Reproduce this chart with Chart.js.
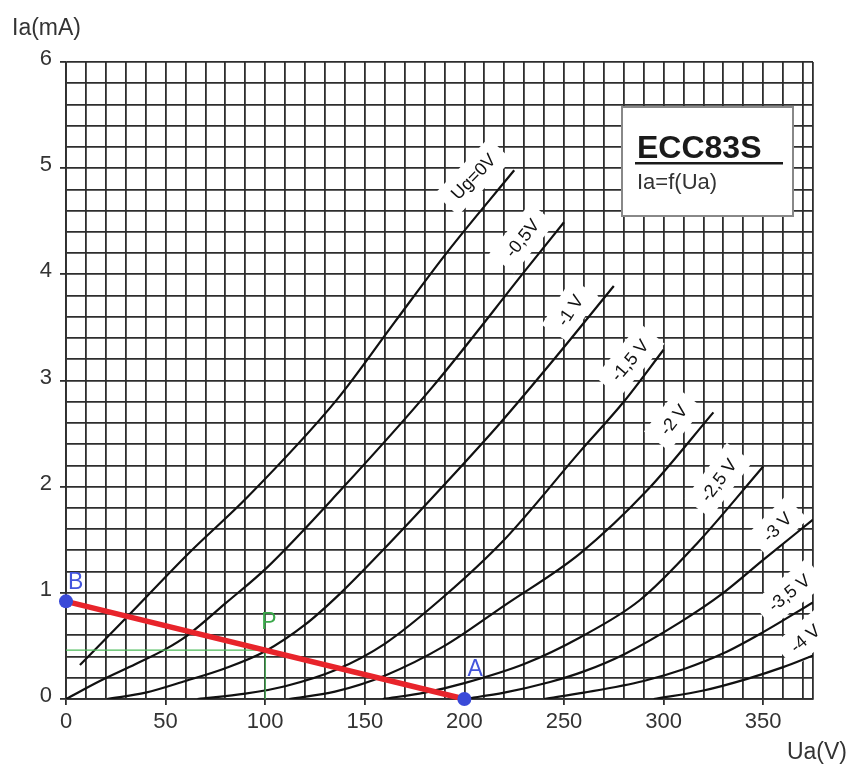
<!DOCTYPE html>
<html>
<head>
<meta charset="utf-8">
<script src="https://cdn.jsdelivr.net/npm/chart.js@4.4.0/dist/chart.umd.min.js"></script>
<style>
  html, body { margin: 0; padding: 0; background: #fff; }
  #wrap { width: 849px; height: 765px; }
</style>
</head>
<body>
<div id="wrap"><canvas id="chart"></canvas></div>
<script>
// curve names (grid voltage)
const curveNames = ['Ug=0V', '-0,5V', '-1 V', '-1,5 V', '-2 V', '-2,5 V', '-3 V', '-3,5 V', '-4 V'];

// Ua (V) and Ia (mA)
const ua0 = [7, 30, 62, 91, 136, 165, 191, 225];
const ia0 = [0.32, 0.76, 1.38, 1.9, 2.82, 3.55, 4.2, 4.98];
const ua05 = [0, 17, 35, 50, 61, 80, 101, 138, 184, 232, 250];
const ia05 = [0, 0.17, 0.33, 0.47, 0.6, 0.9, 1.24, 1.97, 2.94, 4.07, 4.49];
const ua1 = [20.6, 40, 60, 80, 100, 120, 138, 160, 190, 218, 245, 275];
const ia1 = [0, 0.06, 0.17, 0.29, 0.45, 0.7, 1.0, 1.42, 2.02, 2.6, 3.2, 3.89];
const ua15 = [66, 90, 110, 135, 160, 190, 220, 258, 280, 300];
const ia15 = [0, 0.05, 0.12, 0.27, 0.52, 0.97, 1.5, 2.33, 2.8, 3.29];
const ua2 = [112, 135, 160, 190, 220, 258, 292, 325];
const ia2 = [0, 0.07, 0.22, 0.5, 0.88, 1.37, 1.97, 2.7];
const ua25 = [159, 180, 200, 230, 258, 288, 317, 350];
const ia25 = [0, 0.06, 0.15, 0.33, 0.58, 0.93, 1.47, 2.19];
const ua3 = [200, 220, 243, 260, 280, 308, 330, 350, 375];
const ia3 = [0, 0.06, 0.16, 0.26, 0.42, 0.72, 1.0, 1.31, 1.69];
const ua35 = [240, 260, 290, 310, 330, 350, 375];
const ia35 = [0, 0.06, 0.17, 0.28, 0.43, 0.63, 0.91];
const ua4 = [295, 320, 342, 360, 375];
const ia4 = [0, 0.08, 0.19, 0.3, 0.41];

// load line B -> A and operating point P
const loadUa = [0, 200];
const loadIa = [0.92, 0];
const opUa = 100;
const opIa = 0.46;

// axis ticks
const xTickLabels = [0, 50, 100, 150, 200, 250, 300, 350];
const yTickLabels = [0, 1, 2, 3, 4, 5, 6];

// where the curve names sit (Ua, Ia, rotation in degrees)
const curveLabelPos = [
  [204.5, 4.92, -46], [229, 4.34, -51], [253, 3.66, -57],
  [283, 3.19, -50], [305, 2.63, -52], [327.6, 2.06, -53],
  [357, 1.62, -45], [363, 1.0, -39], [371, 0.57, -40]
];

const FONT = '"Liberation Sans", Arial, Helvetica, sans-serif';
Chart.defaults.font.family = FONT;

const pts = (xs, ys) => xs.map((v, i) => ({ x: v, y: ys[i] }));

const curves = [
  [ua0, ia0], [ua05, ia05], [ua1, ia1], [ua15, ia15], [ua2, ia2],
  [ua25, ia25], [ua3, ia3], [ua35, ia35], [ua4, ia4]
].map((c, i) => ({
  label: curveNames[i],
  data: pts(c[0], c[1]),
  showLine: true,
  borderColor: '#111',
  borderWidth: 2.2,
  pointRadius: 0,
  cubicInterpolationMode: 'monotone',
  order: 3
}));

const guide = {
  label: 'P',
  data: pts([0, opUa, opUa], [opIa, opIa, 0]),
  showLine: true,
  borderColor: '#4cbb5a',
  borderWidth: 1.2,
  pointRadius: 0,
  order: 2
};

const loadLine = {
  label: 'load',
  data: pts(loadUa, loadIa),
  showLine: true,
  borderColor: '#e8242b',
  borderWidth: 5.5,
  pointRadius: 7,
  pointBackgroundColor: '#3a4ad8',
  pointBorderColor: '#3a4ad8',
  pointBorderWidth: 0,
  clip: false,
  order: 1
};

const decor = {
  id: 'decor',
  beforeDatasetsDraw(chart) {
    const { ctx, chartArea, scales: { x, y } } = chart;
    ctx.save();
    // title box
    const bx = chartArea.right - 191, by = chartArea.top + 45;
    ctx.fillStyle = '#fff';
    ctx.fillRect(bx, by, 171, 109);
    ctx.strokeStyle = '#888';
    ctx.lineWidth = 2;
    ctx.strokeRect(bx, by, 171, 109);
    ctx.fillStyle = '#1a1a1a';
    ctx.textAlign = 'left';
    ctx.textBaseline = 'alphabetic';
    ctx.font = 'bold 32px ' + FONT;
    ctx.fillText('ECC83S', bx + 15, by + 51);
    ctx.fillRect(bx + 13, by + 55, 148, 2.5);
    ctx.fillStyle = '#333';
    ctx.font = '22px ' + FONT;
    ctx.fillText('Ia=f(Ua)', bx + 15, by + 82);

    // curve names on white patches
    ctx.font = '18px ' + FONT;
    curveLabelPos.forEach((p, i) => {
      const px = x.getPixelForValue(p[0]);
      const py = y.getPixelForValue(p[1]);
      ctx.save();
      ctx.translate(px, py);
      ctx.rotate(p[2] * Math.PI / 180);
      const w = ctx.measureText(curveNames[i]).width;
      ctx.fillStyle = '#fff';
      ctx.fillRect(-w / 2 - 11, -16, w + 22, 32);
      ctx.fillStyle = '#111';
      ctx.textAlign = 'center';
      ctx.textBaseline = 'middle';
      ctx.fillText(curveNames[i], 0, 1);
      ctx.restore();
    });
    ctx.restore();
  },
  afterDatasetsDraw(chart) {
    const { ctx, scales: { x, y } } = chart;
    ctx.save();
    ctx.font = '23px ' + FONT;
    ctx.textAlign = 'left';
    ctx.textBaseline = 'alphabetic';
    ctx.fillStyle = '#4455dd';
    ctx.fillText('B', x.getPixelForValue(loadUa[0]) + 2, y.getPixelForValue(loadIa[0]) - 12);
    ctx.fillText('A', x.getPixelForValue(loadUa[1]) + 3, y.getPixelForValue(loadIa[1]) - 23);
    ctx.fillStyle = '#3aa84a';
    ctx.fillText('P', x.getPixelForValue(opUa) - 4, y.getPixelForValue(opIa) - 21);
    ctx.restore();
  },
  afterDraw(chart) {
    const { ctx } = chart;
    ctx.save();
    ctx.fillStyle = '#333';
    ctx.font = '23px ' + FONT;
    ctx.textAlign = 'left';
    ctx.fillText('Ia(mA)', 12, 35);
    ctx.textAlign = 'right';
    ctx.fillText('Ua(V)', 847, 759);
    ctx.restore();
  }
};

const gridColor = '#2e2e2e';

new Chart(document.getElementById('chart'), {
  type: 'scatter',
  data: { datasets: [loadLine, guide, ...curves] },
  options: {
    responsive: true,
    maintainAspectRatio: false,
    animation: false,
    layout: { padding: { top: 62, right: 36, left: 0, bottom: 0 } },
    plugins: { legend: { display: false }, tooltip: { enabled: false } },
    scales: {
      x: {
        type: 'linear',
        min: 0,
        max: 375,
        afterBuildTicks(scale) {
          const t = [];
          for (let v = 0; v <= 370; v += 10) t.push({ value: v });
          t.push({ value: 375 });
          scale.ticks = t;
        },
        afterFit(scale) { scale.height = 66; },
        grid: {
          color: gridColor,
          lineWidth: 1.8,
          tickLength: 6,
          tickColor: (c) => (c.tick && xTickLabels.includes(c.tick.value)) ? gridColor : 'rgba(0,0,0,0)'
        },
        border: { color: gridColor, width: 1.8 },
        ticks: {
          autoSkip: false,
          minRotation: 0,
          maxRotation: 0,
          padding: 4,
          color: '#333',
          font: { size: 22 },
          callback: (v) => xTickLabels.includes(v) ? String(v) : ''
        }
      },
      y: {
        type: 'linear',
        min: 0,
        max: 6,
        afterBuildTicks(scale) {
          const t = [];
          for (let i = 0; i <= 30; i++) t.push({ value: Math.round(i * 2) / 10 });
          scale.ticks = t;
        },
        afterFit(scale) { scale.width = 66; },
        grid: {
          color: gridColor,
          lineWidth: 1.8,
          tickLength: 6,
          tickColor: (c) => (c.tick && yTickLabels.includes(c.tick.value)) ? gridColor : 'rgba(0,0,0,0)'
        },
        border: { color: gridColor, width: 1.8 },
        ticks: {
          autoSkip: false,
          padding: 8,
          labelOffset: -3,
          color: '#333',
          font: { size: 22 },
          callback: (v) => yTickLabels.includes(v) ? String(v) : ''
        }
      }
    }
  },
  plugins: [decor]
});
</script>
</body>
</html>
